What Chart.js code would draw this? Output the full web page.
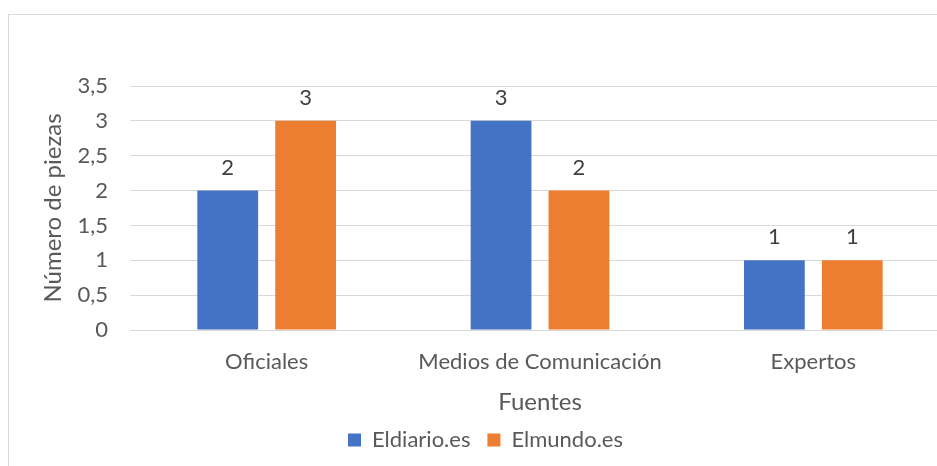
<!DOCTYPE html>
<html>
<head>
<meta charset="utf-8">
<script src="https://cdn.jsdelivr.net/npm/chart.js@4.4.1/dist/chart.umd.min.js"></script>
<style>
  html, body { margin: 0; padding: 0; background: #fff; overflow: hidden; width: 937px; height: 466px; }
  #box { position: absolute; left: 8px; top: 14px; width: 955px; height: 460px;
         border-left: 1px solid #d9d9d9; border-top: 1px solid #d9d9d9; background: #fff; }
  canvas { display: block; }
</style>
</head>
<body>
<div id="box"><canvas id="c" width="955" height="451"></canvas></div>
<script>
const categories = ["Oficiales", "Medios de Comunicación", "Expertos"];
const seriesNames = ["Eldiario.es", "Elmundo.es"];
const eldiarioValues = [2, 3, 1];
const elmundoValues = [3, 2, 1];
const yTicks = [0, 0.5, 1, 1.5, 2, 2.5, 3, 3.5];

const FONT = "Lato, 'Liberation Sans', sans-serif";
const TEXT = "#595959";

const dataLabels = {
  id: "dataLabels",
  afterDatasetsDraw(chart) {
    const ctx = chart.ctx;
    ctx.save();
    ctx.font = "22px " + FONT;
    ctx.fillStyle = "#404040";
    ctx.textAlign = "center";
    ctx.textBaseline = "middle";
    chart.data.datasets.forEach((ds, i) => {
      chart.getDatasetMeta(i).data.forEach((el, j) => {
        ctx.fillText(String(ds.data[j]).replace(".", ","), el.x, el.y - 23);
      });
    });
    ctx.restore();
  }
};

const legendHeight = {
  id: "legendHeight",
  beforeInit(chart) {
    const origFit = chart.legend.fit;
    chart.legend.fit = function () {
      origFit.call(this);
      this.height = 40;
    };
  }
};

new Chart(document.getElementById("c"), {
  type: "bar",
  data: {
    labels: categories,
    datasets: [
      { label: seriesNames[0], data: eldiarioValues, backgroundColor: "#4472C4",
        categoryPercentage: 0.57, barPercentage: 0.78 },
      { label: seriesNames[1], data: elmundoValues, backgroundColor: "#ED7D31",
        categoryPercentage: 0.57, barPercentage: 0.78 }
    ]
  },
  options: {
    responsive: false,
    animation: false,
    devicePixelRatio: 1,
    layout: { padding: { left: 12, right: 14, top: 71, bottom: 14 } },
    plugins: {
      tooltip: { enabled: false },
      legend: {
        position: "bottom",
        labels: { font: { family: FONT, size: 22 }, color: TEXT, boxWidth: 13, boxHeight: 13, padding: 17 }
      }
    },
    scales: {
      x: {
        grid: { display: false, drawTicks: false },
        border: { display: true, color: "#d9d9d9" },
        ticks: { font: { family: FONT, size: 22 }, color: TEXT, padding: 19, maxRotation: 0 },
        title: { display: true, text: "Fuentes", font: { family: FONT, size: 24 }, color: TEXT,
                 padding: { top: 0, bottom: -5 } },
        afterFit(scale) { scale.height = 82; }
      },
      y: {
        min: 0, max: 3.5,
        grid: { color: "#d9d9d9", drawTicks: false },
        border: { display: false },
        afterBuildTicks(scale) { scale.ticks = yTicks.map(v => ({ value: v })); },
        ticks: {
          font: { family: FONT, size: 22 }, color: TEXT, padding: 22,
          callback: v => String(v).replace(".", ",")
        },
        title: { display: true, text: "Número de piezas", font: { family: FONT, size: 24 }, color: TEXT,
                 padding: { top: 18, bottom: 0 } },
        afterFit(scale) { scale.width = 109; }
      }
    }
  },
  plugins: [dataLabels, legendHeight]
});
</script>
</body>
</html>
